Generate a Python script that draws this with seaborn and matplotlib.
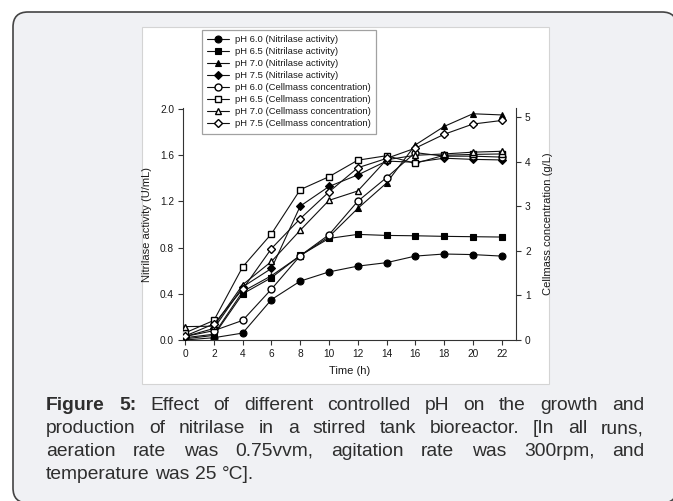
import numpy as np
import pandas as pd
import matplotlib
matplotlib.use("Agg")
import matplotlib.pyplot as plt
import seaborn as sns
from matplotlib.patches import FancyBboxPatch, Rectangle
from matplotlib.transforms import IdentityTransform

# ---------------- data ----------------
time_h = [0, 2, 4, 6, 8, 10, 12, 14, 16, 18, 20, 22]

# Nitrilase activity (U/mL) - left axis
nit_ph60 = [0.00, 0.02, 0.06, 0.35, 0.51, 0.59, 0.64, 0.67, 0.727, 0.745, 0.74, 0.727]
nit_ph65 = [0.01, 0.04, 0.40, 0.54, 0.733, 0.88, 0.915, 0.906, 0.903, 0.898, 0.895, 0.892]
nit_ph70 = [0.02, 0.05, 0.42, 0.557, 0.73, 0.895, 1.14, 1.36, 1.69, 1.85, 1.96, 1.95]
nit_ph75 = [0.03, 0.10, 0.46, 0.62, 1.16, 1.33, 1.43, 1.55, 1.54, 1.575, 1.565, 1.56]

# Cellmass concentration (g/L) - right axis
cell_ph60 = [0.08, 0.21, 0.44, 1.14, 1.89, 2.36, 3.11, 3.64, 4.20, 4.12, 4.12, 4.10]
cell_ph65 = [0.16, 0.44, 1.64, 2.38, 3.37, 3.66, 4.03, 4.13, 3.96, 4.14, 4.16, 4.17]
cell_ph70 = [0.30, 0.31, 1.24, 1.76, 2.46, 3.13, 3.34, 4.04, 4.14, 4.17, 4.21, 4.23]
cell_ph75 = [0.09, 0.36, 1.14, 2.05, 2.72, 3.32, 3.86, 4.07, 4.30, 4.61, 4.84, 4.92]

labels_nit = ["pH 6.0 (Nitrilase activity)", "pH 6.5 (Nitrilase activity)",
              "pH 7.0 (Nitrilase activity)", "pH 7.5 (Nitrilase activity)"]
labels_cell = ["pH 6.0 (Cellmass concentration)", "pH 6.5 (Cellmass concentration)",
               "pH 7.0 (Cellmass concentration)", "pH 7.5 (Cellmass concentration)"]

left_ticks = [0.0, 0.4, 0.8, 1.2, 1.6, 2.0]
right_ticks = [0, 1, 2, 3, 4, 5]
x_ticks = [0, 2, 4, 6, 8, 10, 12, 14, 16, 18, 20, 22]

caption_lines = [
    [("Figure", "bold"), ("5:", "bold"), ("Effect", "normal"), ("of", "normal"), ("different", "normal"),
     ("controlled", "normal"), ("pH", "normal"), ("on", "normal"), ("the", "normal"),
     ("growth", "normal"), ("and", "normal")],
    [(w, "normal") for w in "production of nitrilase in a stirred tank bioreactor. [In all runs,".split(" ")],
    [(w, "normal") for w in "aeration rate was 0.75vvm, agitation rate was 300rpm, and".split(" ")],
    [(w, "normal") for w in "temperature was 25 °C].".split(" ")],
]

# ---------------- style ----------------
sns.set_style("ticks")
plt.rcParams["font.family"] = ["Liberation Sans", "DejaVu Sans"]

W, H = 673, 501
fig = plt.figure(figsize=(W / 100, H / 100), dpi=100)
fig.patch.set_facecolor("white")

# rounded outer panel (pixel coordinates, origin bottom-left)
outer = FancyBboxPatch((13, H - 503), 664, 491,
                       boxstyle="round,pad=0,rounding_size=15",
                       transform=IdentityTransform(), facecolor="#f0f1f4",
                       edgecolor="#444444", linewidth=1.2, zorder=-3)
fig.patches.append(outer)
inner = Rectangle((142, H - 384), 549 - 142, 384 - 27, transform=IdentityTransform(),
                  facecolor="white", edgecolor="#d4d4d4", linewidth=0.8, zorder=-2)
fig.patches.append(inner)

ax = fig.add_axes([183 / W, (H - 340) / H, 333 / W, 232 / H])
ax.set_facecolor("none")
ax2 = ax.twinx()
ax2.set_facecolor("none")

markers = ["o", "s", "^", "D"]
msizes = [5, 4.6, 5, 4.2]
handles = []

for vals, lab, mk, ms in zip([nit_ph60, nit_ph65, nit_ph70, nit_ph75], labels_nit, markers, msizes):
    sns.lineplot(x=time_h, y=vals, ax=ax, color="#111111", linewidth=0.8, marker=mk,
                 markersize=ms, markerfacecolor="black", markeredgecolor="black",
                 markeredgewidth=0.8, legend=False, errorbar=None)
    ln = ax.lines[-1]
    ln.set_label(lab)
    handles.append(ln)

for vals, lab, mk, ms in zip([cell_ph60, cell_ph65, cell_ph70, cell_ph75], labels_cell, markers, msizes):
    sns.lineplot(x=time_h, y=vals, ax=ax2, color="#111111", linewidth=0.8, marker=mk,
                 markersize=ms, markerfacecolor="white", markeredgecolor="black",
                 markeredgewidth=1.0, legend=False, errorbar=None)
    ln = ax2.lines[-1]
    ln.set_label(lab)
    handles.append(ln)

ax.set_xlim(-0.15, 23)
ax.set_ylim(0, 2.01)
ax2.set_ylim(0, 5.2)
ax.set_xticks(x_ticks)
ax.set_xticklabels([str(t) for t in x_ticks])
ax.set_yticks(left_ticks)
ax.set_yticklabels([f"{t:.1f}" for t in left_ticks])
ax2.set_yticks(right_ticks)
ax2.set_yticklabels([str(t) for t in right_ticks])

for a in (ax, ax2):
    a.tick_params(axis="both", labelsize=7.3, length=3.5, width=0.8, color="#333333",
                  labelcolor="#1a1a1a", pad=3, direction="out")
    for s in a.spines.values():
        s.set_color("#333333")
        s.set_linewidth(0.8)
    a.spines["top"].set_visible(False)
ax.spines["right"].set_visible(False)
ax2.spines["left"].set_visible(False)
ax2.spines["bottom"].set_visible(False)

ax.set_xlabel("Time (h)", fontsize=8, color="#1a1a1a", labelpad=5)
ax.set_ylabel("Nitrilase activity (U/mL)", fontsize=8, color="#1a1a1a", labelpad=6)
ax2.set_ylabel("Cellmass concentration (g/L)", fontsize=8, color="#1a1a1a", labelpad=9)

leg = fig.legend(handles=handles, labels=[h.get_label() for h in handles],
                 loc="upper left", bbox_to_anchor=(202 / W, 1 - 30 / H),
                 fontsize=6.8, frameon=True, fancybox=False, handlelength=2.3,
                 handletextpad=0.6, labelspacing=0.32, borderpad=0.55, borderaxespad=0)
leg.get_frame().set_edgecolor("#8a8a8a")
leg.get_frame().set_linewidth(0.9)
for t in leg.get_texts():
    t.set_color("#1a1a1a")

# ---------------- justified caption ----------------
cap_color = "#2e2e2e"
x_left, x_right = 46, 644
baselines = [410, 433, 456, 479]
fs = 13.9
renderer = fig.canvas.get_renderer()

def measure(word, weight, size):
    t = fig.text(0, 0, word, fontsize=size, fontweight=weight, transform=IdentityTransform())
    w = t.get_window_extent(renderer).width
    t.remove()
    return w

space_w = measure("a a", "normal", fs) - measure("aa", "normal", fs)
for i, (line, yb) in enumerate(zip(caption_lines, baselines)):
    widths = [measure(w, wt, fs) for w, wt in line]
    if i < len(caption_lines) - 1:
        gap = (x_right - x_left - sum(widths)) / (len(line) - 1)
    else:
        gap = space_w
    x = x_left
    for (w, wt), wd in zip(line, widths):
        fig.text(x, H - yb, w, fontsize=fs, fontweight=wt, color=cap_color,
                 transform=IdentityTransform(), ha="left", va="baseline")
        x += wd + gap

fig.savefig("out.png", dpi=100, facecolor=fig.get_facecolor())
